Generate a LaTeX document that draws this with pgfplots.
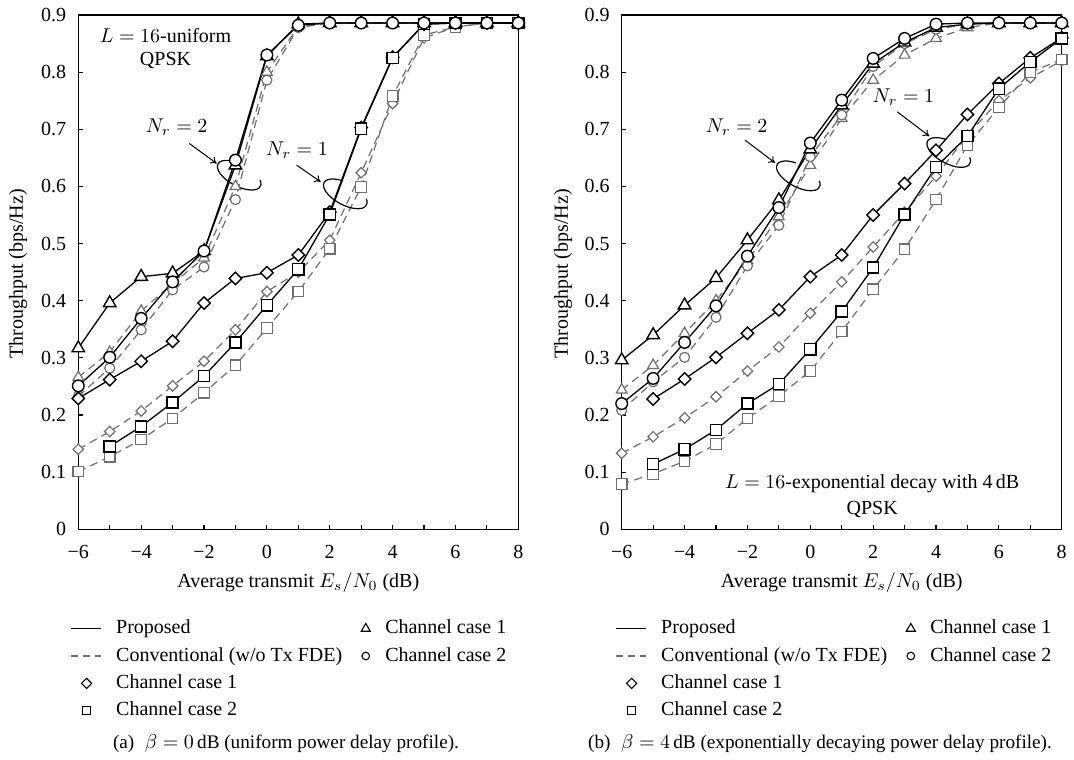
\documentclass[border=0pt]{standalone}
\usepackage{fontspec}
\setmainfont{Liberation Serif}
\usepackage{pgfplots}
\pgfplotsset{compat=1.18}
\usetikzlibrary{arrows.meta}

\definecolor{convgray}{RGB}{110,110,110}

\pgfplotsset{
  tpaxis/.style={
    scale only axis, width=220pt, height=257.15pt,
    xmin=-6, xmax=8, ymin=0, ymax=0.9,
    axis line style={line width=0.7pt},
    xtick={-6,-4,-2,0,2,4,6,8},
    xticklabels={−6,−4,−2,0,2,4,6,8},
    minor xtick={-5,-3,-1,1,3,5,7},
    ytick={0,0.1,0.2,0.3,0.4,0.5,0.6,0.7,0.8,0.9},
    yticklabels={0,0.1,0.2,0.3,0.4,0.5,0.6,0.7,0.8,0.9},
    tick align=inside, tick pos=left,
    major tick length=2.2pt, minor tick length=2.2pt,
    every tick/.style={black, line width=0.6pt},
    xticklabel style={yshift=-4.5pt},
    yticklabel style={xshift=-2.5pt},
    legend columns=2,
    legend cell align=left,
    legend style={anchor=north west, draw=none, fill=none,
      inner sep=0pt, outer sep=0pt,
      nodes={inner sep=0pt, text height=7pt, text depth=2pt},
      row sep=4.7pt, column sep=0pt,
      /tikz/every odd column/.append style={column sep=7.5pt},
      /tikz/every even column/.append style={column sep=9.5pt}},
  },
  prop/.style={black, line width=0.65pt},
  conv/.style={convgray, line width=0.6pt, dash pattern=on 4pt off 2.6pt},
  pm/.style={mark options={solid, fill=white, draw=black, line width=0.7pt, #1}},
  cm/.style={mark options={solid, fill=white, draw=convgray, line width=0.6pt, #1}},
}

% legend entries shared by both panels
\newcommand{\tplegend}{%
  \addlegendimage{legend image code/.code={\draw[black, line width=0.6pt] (0pt,0pt) -- (15pt,0pt);}}
  \addlegendentry{Proposed}
  \addlegendimage{legend image code/.code={\draw[black, line width=0.55pt] plot[mark=triangle, mark size=2.6pt] coordinates {(0pt,0pt)};}}
  \addlegendentry{Channel case 1}
  \addlegendimage{legend image code/.code={\draw[convgray, line width=0.6pt, dash pattern=on 3.5pt off 2.5pt] (0pt,0pt) -- (15pt,0pt);}}
  \addlegendentry{Conventional (w/o Tx FDE)}
  \addlegendimage{legend image code/.code={\draw[black, line width=0.55pt] plot[mark=o, mark size=1.9pt] coordinates {(0pt,0pt)};}}
  \addlegendentry{Channel case 2}
  \addlegendimage{legend image code/.code={\path[draw=none, fill=none] (0pt,0pt) -- (15pt,0pt); \draw[black, line width=0.55pt] plot[mark=square, mark size=1.8pt, mark options={rotate=45}] coordinates {(8pt,0pt)};}}
  \addlegendentry{Channel case 1}
  \addlegendimage{empty legend}
  \addlegendentry{}
  \addlegendimage{legend image code/.code={\path[draw=none, fill=none] (0pt,0pt) -- (15pt,0pt); \draw[black, line width=0.55pt] plot[mark=square, mark size=2pt] coordinates {(8pt,0pt)};}}
  \addlegendentry{Channel case 2}
  \addlegendimage{empty legend}
  \addlegendentry{}
}

% open ellipse grouping a pair of curves
\newcommand{\encl}[3]{%
  \draw[line width=0.6pt, rotate around={#3:(axis cs:#1,#2)}]
    (axis cs:#1,#2) ++(-4.10pt,5.17pt)
    arc[start angle=110, end angle=390, x radius=12pt, y radius=5.5pt];}

\begin{document}
\fontsize{10}{12}\selectfont
\begin{tikzpicture}
\useasboundingbox (0,0) rectangle (537pt,-379.5pt);

% ---------------- (a) beta = 0 dB ----------------
\begin{axis}[tpaxis, at={(39.15pt,-264.65pt)}, anchor=south west,
  legend style={at={(axis description cs:-0.0189,-0.1756)}}]
\tplegend
% conventional (w/o Tx FDE)
\addplot[conv, mark=triangle*, mark size=3.1pt, cm={}, forget plot] coordinates {
(-6,0.266)(-5,0.310)(-4,0.382)(-3,0.430)(-2,0.475)(-1,0.600)(0,0.800)(1,0.880)
(2,0.886)(3,0.886)(4,0.886)(5,0.886)(6,0.886)(7,0.886)(8,0.886)};
\addplot[conv, mark=*, mark size=2.5pt, cm={}, forget plot] coordinates {
(-6,0.233)(-5,0.282)(-4,0.349)(-3,0.419)(-2,0.459)(-1,0.577)(0,0.786)(1,0.878)
(2,0.886)(3,0.886)(4,0.886)(5,0.886)(6,0.886)(7,0.886)(8,0.886)};
\addplot[conv, mark=square*, mark size=1.85pt, cm={rotate=45}, forget plot] coordinates {
(-6,0.140)(-5,0.171)(-4,0.207)(-3,0.251)(-2,0.294)(-1,0.349)(0,0.416)(1,0.450)
(2,0.506)(3,0.624)(4,0.745)(5,0.860)(6,0.879)(7,0.886)(8,0.886)};
\addplot[conv, mark=square*, mark size=2.65pt, cm={}, forget plot] coordinates {
(-6,0.101)(-5,0.127)(-4,0.157)(-3,0.194)(-2,0.239)(-1,0.287)(0,0.352)(1,0.416)
(2,0.491)(3,0.599)(4,0.758)(5,0.865)(6,0.879)(7,0.886)(8,0.886)};
% proposed
\addplot[prop, mark=square*, mark size=2.2pt, pm={rotate=45}, forget plot] coordinates {
(-6,0.229)(-5,0.262)(-4,0.294)(-3,0.329)(-2,0.396)(-1,0.439)(0,0.449)(1,0.480)
(2,0.555)(3,0.703)(4,0.826)(5,0.884)(6,0.886)(7,0.886)(8,0.886)};
\addplot[prop, mark=square*, mark size=2.8pt, pm={}, forget plot] coordinates {
(-5,0.145)(-4,0.180)(-3,0.222)(-2,0.268)(-1,0.327)(0,0.392)(1,0.455)
(2,0.551)(3,0.701)(4,0.825)(5,0.884)(6,0.886)(7,0.886)(8,0.886)};
\addplot[prop, mark=triangle*, mark size=3.6pt, pm={}, forget plot] coordinates {
(-6,0.317)(-5,0.396)(-4,0.442)(-3,0.448)(-2,0.487)(-1,0.637)(0,0.828)(1,0.884)
(2,0.886)(3,0.886)(4,0.886)(5,0.886)(6,0.886)(7,0.886)(8,0.886)};
\addplot[prop, mark=*, mark size=2.9pt, pm={}, forget plot] coordinates {
(-6,0.251)(-5,0.301)(-4,0.369)(-3,0.433)(-2,0.487)(-1,0.646)(0,0.830)(1,0.882)
(2,0.886)(3,0.886)(4,0.886)(5,0.886)(6,0.886)(7,0.886)(8,0.886)};
% annotations
\node[align=center, font=\fontsize{10}{11.5}\selectfont] at (axis cs:-3.225,0.8408) {$L = 16$-uniform\\QPSK};
\node at (axis cs:-2.87,0.704) {$N_r = 2$};
\draw[-{To[length=3pt,width=4pt]}, line width=0.5pt] (axis cs:-2.468,0.6752) -- (axis cs:-1.597,0.6402);
\encl{-0.881}{0.6197}{-28}
\node at (axis cs:0.958,0.6635) {$N_r = 1$};
\draw[-{To[length=3pt,width=4pt]}, line width=0.5pt] (axis cs:0.949,0.6372) -- (axis cs:1.712,0.608);
\encl{2.495}{0.587}{-28}
\end{axis}

% ---------------- (b) beta = 4 dB ----------------
\begin{axis}[tpaxis, at={(310.85pt,-264.65pt)}, anchor=south west,
  legend style={at={(axis description cs:-0.0152,-0.1756)}}]
\tplegend
% conventional (w/o Tx FDE)
\addplot[conv, mark=triangle*, mark size=3.1pt, cm={}, forget plot] coordinates {
(-6,0.244)(-5,0.287)(-4,0.343)(-3,0.400)(-2,0.470)(-1,0.547)(0,0.637)(1,0.719)
(2,0.786)(3,0.830)(4,0.859)(5,0.878)(6,0.886)(7,0.886)(8,0.886)};
\addplot[conv, mark=*, mark size=2.5pt, cm={}, forget plot] coordinates {
(-6,0.208)(-5,0.258)(-4,0.301)(-3,0.371)(-2,0.461)(-1,0.532)(0,0.652)(1,0.725)
(2,0.810)(3,0.850)(4,0.875)(5,0.884)(6,0.886)(7,0.886)(8,0.886)};
\addplot[conv, mark=square*, mark size=1.85pt, cm={rotate=45}, forget plot] coordinates {
(-6,0.133)(-5,0.162)(-4,0.195)(-3,0.232)(-2,0.277)(-1,0.319)(0,0.378)(1,0.433)
(2,0.494)(3,0.555)(4,0.618)(5,0.690)(6,0.750)(7,0.790)(8,0.820)};
\addplot[conv, mark=square*, mark size=2.65pt, cm={}, forget plot] coordinates {
(-6,0.079)(-5,0.097)(-4,0.119)(-3,0.149)(-2,0.194)(-1,0.233)(0,0.277)(1,0.346)
(2,0.420)(3,0.490)(4,0.577)(5,0.672)(6,0.738)(7,0.800)(8,0.822)};
% proposed
\addplot[prop, mark=square*, mark size=2.2pt, pm={rotate=45}, forget plot] coordinates {
(-5,0.228)(-4,0.263)(-3,0.301)(-2,0.343)(-1,0.384)(0,0.442)(1,0.480)
(2,0.550)(3,0.605)(4,0.663)(5,0.726)(6,0.780)(7,0.825)(8,0.860)};
\addplot[prop, mark=square*, mark size=2.8pt, pm={}, forget plot] coordinates {
(-5,0.114)(-4,0.140)(-3,0.174)(-2,0.220)(-1,0.254)(0,0.315)(1,0.381)
(2,0.458)(3,0.551)(4,0.634)(5,0.688)(6,0.771)(7,0.818)(8,0.859)};
\addplot[prop, mark=triangle*, mark size=3.6pt, pm={}, forget plot] coordinates {
(-6,0.296)(-5,0.340)(-4,0.392)(-3,0.440)(-2,0.506)(-1,0.576)(0,0.665)(1,0.742)
(2,0.815)(3,0.852)(4,0.878)(5,0.884)(6,0.886)(7,0.886)(8,0.886)};
\addplot[prop, mark=*, mark size=2.9pt, pm={}, forget plot] coordinates {
(-6,0.220)(-5,0.264)(-4,0.327)(-3,0.391)(-2,0.478)(-1,0.563)(0,0.676)(1,0.751)
(2,0.824)(3,0.859)(4,0.884)(5,0.886)(6,0.886)(7,0.886)(8,0.886)};
% annotations
\node[align=center, font=\fontsize{10}{13}\selectfont] at (axis cs:1.97,0.0585) {$L = 16$-exponential decay with 4\,dB\\QPSK};
\node at (axis cs:-2.345,0.704) {$N_r = 2$};
\draw[-{To[length=3pt,width=4pt]}, line width=0.5pt] (axis cs:-2.077,0.6811) -- (axis cs:-1.122,0.6413);
\encl{-0.381}{0.6185}{-28}
\node at (axis cs:2.96,0.757) {$N_r = 1$};
\draw[-{To[length=3pt,width=4pt]}, line width=0.5pt] (axis cs:2.769,0.7305) -- (axis cs:3.787,0.688);
\encl{4.404}{0.6594}{-28}
\end{axis}

% axis titles
\node[rotate=90] at (9pt,-137pt) {Throughput (bps/Hz)};
\node[rotate=90] at (281.5pt,-137pt) {Throughput (bps/Hz)};
\node at (149.15pt,-291pt) {Average transmit $E_s/N_0$ (dB)};
\node at (420.85pt,-291pt) {Average transmit $E_s/N_0$ (dB)};

% sub-captions
\node[inner sep=0pt, font=\fontsize{9.6}{11.5}\selectfont] at (143pt,-371.65pt) {(a)\hspace{0.55em}$\beta = 0$\,dB (uniform power delay profile).};
\node[inner sep=0pt, font=\fontsize{9.6}{11.5}\selectfont] at (410pt,-371.65pt) {(b)\hspace{0.55em}$\beta = 4$\,dB (exponentially decaying power delay profile).};
\end{tikzpicture}
\end{document}
